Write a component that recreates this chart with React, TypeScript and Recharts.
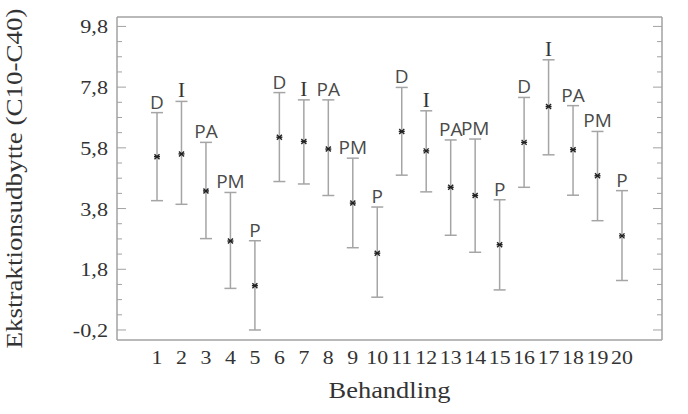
import { ErrorBar, Label, Scatter, ScatterChart, XAxis, YAxis } from "recharts";

const treatments = [1, 2, 3, 4, 5, 6, 7, 8, 9, 10, 11, 12, 13, 14, 15, 16, 17, 18, 19, 20];
const labels = [
  "D", "I", "PA", "PM", "P",
  "D", "I", "PA", "PM", "P",
  "D", "I", "PA", "PM", "P",
  "D", "I", "PA", "PM", "P",
];
const means = [5.51, 5.6, 4.38, 2.73, 1.26, 6.15, 6.01, 5.76, 3.98, 2.33, 6.34, 5.7, 4.5, 4.23, 2.61, 5.98, 7.16, 5.74, 4.88, 2.9];
const upper = [6.96, 7.33, 5.98, 4.33, 2.74, 7.62, 7.38, 7.38, 5.46, 3.85, 7.79, 7.02, 6.06, 6.09, 4.09, 7.46, 8.7, 7.19, 6.34, 4.39];
const lower = [4.06, 3.94, 2.81, 1.17, -0.2, 4.69, 4.61, 4.23, 2.51, 0.88, 4.9, 4.35, 2.92, 2.36, 1.12, 4.5, 5.57, 4.24, 3.4, 1.43];
const yTicks = [-0.2, 0.3, 0.8, 1.3, 1.8, 2.3, 2.8, 3.3, 3.8, 4.3, 4.8, 5.3, 5.8, 6.3, 6.8, 7.3, 7.8, 8.3, 8.8, 9.3, 9.8];
const yMajor = [-0.2, 1.8, 3.8, 5.8, 7.8, 9.8];

const X_DOMAIN = [-0.635, 21.635];
const Y_DOMAIN = [-0.53, 10.11];
const FRAME = "#a2a2a2";
const TEXT = "#333";
const SERIF_FAMILY = "'Liberation Serif', 'Times New Roman', serif";
const SANS_FAMILY = "'Open Sans', sans-serif";

const meanData = treatments.map((t, i) => ({
  x: t,
  y: means[i],
  err: [means[i] - lower[i], upper[i] - means[i]],
}));
const labelData = treatments.map((t, i) => ({ x: t, y: upper[i], label: labels[i] }));

const isMajor = (v: number) => yMajor.some((m) => Math.abs(m - v) < 1e-6);
const fmt = (v: number) => v.toFixed(1).replace(".", ",");

function LeftTick({ x, y, payload }: any) {
  const major = isMajor(payload.value);
  return (
    <g>
      <line x1={x} x2={x + (major ? 9 : 5)} y1={y} y2={y} stroke={FRAME} strokeWidth={1} />
      {major && (
        <text
          transform={`translate(${x - 9},${y + 7}) scale(1.17,1)`}
          textAnchor="end"
          fontFamily={SERIF_FAMILY}
          style={{ fontFamily: SERIF_FAMILY }}
          fontSize={19}
          fill={TEXT}
        >
          {fmt(payload.value)}
        </text>
      )}
    </g>
  );
}

function RightTick({ x, y, payload }: any) {
  const major = isMajor(payload.value);
  return <line x1={x} x2={x - (major ? 9 : 5)} y1={y} y2={y} stroke={FRAME} strokeWidth={1} />;
}

function BottomTick({ x, y, payload }: any) {
  return (
    <text
      transform={`translate(${x},${y + 24}) scale(1.15,1)`}
      textAnchor="middle"
      fontFamily={SERIF_FAMILY}
      style={{ fontFamily: SERIF_FAMILY }}
      fontSize={19}
      fill={TEXT}
    >
      {payload.value}
    </text>
  );
}

function Marker({ cx, cy }: any) {
  return (
    <g stroke="#222" strokeWidth={1.4}>
      <line x1={cx - 2.5} y1={cy - 2.5} x2={cx + 2.5} y2={cy + 2.5} />
      <line x1={cx - 2.5} y1={cy + 2.5} x2={cx + 2.5} y2={cy - 2.5} />
      <line x1={cx - 3} y1={cy} x2={cx + 3} y2={cy} />
    </g>
  );
}

function GroupLabel({ cx, cy, payload }: any) {
  const serif = payload.label === "I";
  const family = serif ? SERIF_FAMILY : SANS_FAMILY;
  return (
    <text
      x={cx}
      y={cy - 4}
      textAnchor="middle"
      fontFamily={family}
      style={{ fontFamily: family }}
      fontSize={serif ? 21 : 19}
      fill={serif ? "#333" : "#4a4a4a"}
    >
      {payload.label}
    </text>
  );
}

function YTitle({ viewBox }: any) {
  const cx = viewBox.x + 22;
  const cy = viewBox.y + viewBox.height / 2;
  return (
    <text
      x={cx}
      y={cy}
      transform={`rotate(-90, ${cx}, ${cy})`}
      textAnchor="middle"
      fontFamily={SERIF_FAMILY}
      style={{ fontFamily: SERIF_FAMILY }}
      fontSize={23}
      fill={TEXT}
      textLength={340}
      lengthAdjust="spacingAndGlyphs"
    >
      Ekstraktionsudbytte (C10-C40)
    </text>
  );
}

function XTitle({ viewBox }: any) {
  const cx = viewBox.x + viewBox.width / 2;
  const by = viewBox.y + 58;
  return (
    <text
      transform={`translate(${cx},${by}) scale(1.15,1)`}
      textAnchor="middle"
      fontFamily={SERIF_FAMILY}
      style={{ fontFamily: SERIF_FAMILY }}
      fontSize={23}
      fill={TEXT}
    >
      Behandling
    </text>
  );
}

export default function App() {
  return (
    <div style={{ background: "#fff" }}>
      <style>{"body{margin:0}"}</style>
      <ScatterChart width={688} height={414} margin={{ top: 0, right: 0, bottom: 0, left: 0 }}>
        <XAxis
          xAxisId="b"
          type="number"
          dataKey="x"
          domain={X_DOMAIN}
          ticks={treatments}
          interval={0}
          allowDataOverflow
          tickLine={false}
          tickSize={0}
          tickMargin={0}
          axisLine={{ stroke: FRAME, strokeWidth: 1.5 }}
          tick={<BottomTick />}
          height={74}
        >
          <Label content={<XTitle />} />
        </XAxis>
        <XAxis
          xAxisId="t"
          orientation="top"
          type="number"
          domain={X_DOMAIN}
          allowDataOverflow
          tick={false}
          tickLine={false}
          axisLine={{ stroke: FRAME, strokeWidth: 1.5 }}
          height={17}
        />
        <YAxis
          yAxisId="l"
          type="number"
          dataKey="y"
          domain={Y_DOMAIN}
          ticks={yTicks}
          interval={0}
          allowDataOverflow
          tickLine={false}
          tickSize={0}
          tickMargin={0}
          axisLine={{ stroke: FRAME, strokeWidth: 1.5 }}
          tick={<LeftTick />}
          width={117}
        >
          <Label content={<YTitle />} />
        </YAxis>
        <YAxis
          yAxisId="r"
          orientation="right"
          type="number"
          domain={Y_DOMAIN}
          ticks={yTicks}
          interval={0}
          allowDataOverflow
          tickLine={false}
          tickSize={0}
          tickMargin={0}
          axisLine={{ stroke: FRAME, strokeWidth: 1.5 }}
          tick={<RightTick />}
          width={26}
        />
        <Scatter
          data={meanData}
          xAxisId="b"
          yAxisId="l"
          shape={<Marker />}
          isAnimationActive={false}
        >
          <ErrorBar dataKey="err" direction="y" width={6} stroke="#a5a5a5" strokeWidth={1.5} />
        </Scatter>
        <Scatter
          data={labelData}
          xAxisId="b"
          yAxisId="l"
          shape={<GroupLabel />}
          isAnimationActive={false}
        />
      </ScatterChart>
    </div>
  );
}
